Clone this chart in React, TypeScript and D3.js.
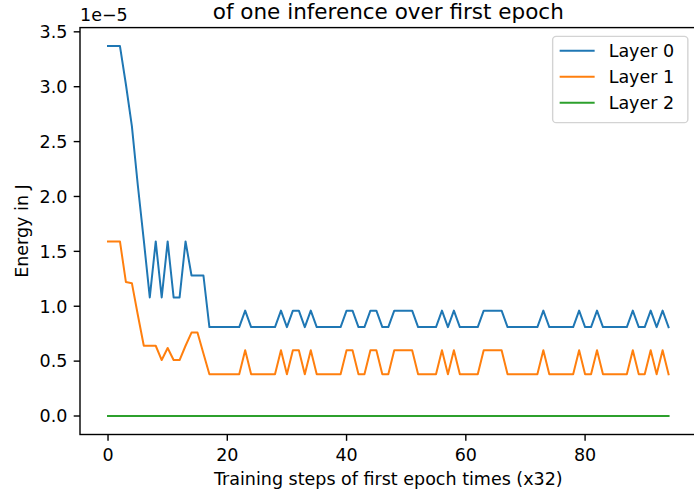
import React from 'react';
import * as d3 from 'd3';

// Energy values in units of 1e-5 J, one per training step (x32)
const layer0: number[] = [
  3.37, 3.37, 3.37, 3.02, 2.64, 2.10, 1.60, 1.08, 1.59, 1.08,
  1.59, 1.08, 1.08, 1.59, 1.28, 1.28, 1.28, 0.81, 0.81, 0.81,
  0.81, 0.81, 0.81, 0.96, 0.81, 0.81, 0.81, 0.81, 0.81, 0.96,
  0.81, 0.96, 0.96, 0.81, 0.96, 0.81, 0.81, 0.81, 0.81, 0.81,
  0.96, 0.96, 0.81, 0.81, 0.96, 0.96, 0.81, 0.81, 0.96, 0.96,
  0.96, 0.96, 0.81, 0.81, 0.81, 0.81, 0.96, 0.81, 0.96, 0.81,
  0.81, 0.81, 0.81, 0.96, 0.96, 0.96, 0.96, 0.81, 0.81, 0.81,
  0.81, 0.81, 0.81, 0.96, 0.81, 0.81, 0.81, 0.81, 0.81, 0.96,
  0.81, 0.81, 0.96, 0.81, 0.81, 0.81, 0.81, 0.81, 0.96, 0.81,
  0.81, 0.96, 0.81, 0.96, 0.81,
];

const layer1: number[] = [
  1.59, 1.59, 1.59, 1.22, 1.21, 0.92, 0.64, 0.64, 0.64, 0.51,
  0.62, 0.51, 0.51, 0.64, 0.76, 0.76, 0.57, 0.38, 0.38, 0.38,
  0.38, 0.38, 0.38, 0.60, 0.38, 0.38, 0.38, 0.38, 0.38, 0.60,
  0.38, 0.60, 0.60, 0.38, 0.60, 0.38, 0.38, 0.38, 0.38, 0.38,
  0.60, 0.60, 0.38, 0.38, 0.60, 0.60, 0.38, 0.38, 0.60, 0.60,
  0.60, 0.60, 0.38, 0.38, 0.38, 0.38, 0.60, 0.38, 0.60, 0.38,
  0.38, 0.38, 0.38, 0.60, 0.60, 0.60, 0.60, 0.38, 0.38, 0.38,
  0.38, 0.38, 0.38, 0.60, 0.38, 0.38, 0.38, 0.38, 0.38, 0.60,
  0.38, 0.38, 0.60, 0.38, 0.38, 0.38, 0.38, 0.38, 0.60, 0.38,
  0.38, 0.60, 0.38, 0.60, 0.38,
];

const layer2: number[] = [
  0, 0, 0, 0, 0, 0, 0, 0, 0, 0,
  0, 0, 0, 0, 0, 0, 0, 0, 0, 0,
  0, 0, 0, 0, 0, 0, 0, 0, 0, 0,
  0, 0, 0, 0, 0, 0, 0, 0, 0, 0,
  0, 0, 0, 0, 0, 0, 0, 0, 0, 0,
  0, 0, 0, 0, 0, 0, 0, 0, 0, 0,
  0, 0, 0, 0, 0, 0, 0, 0, 0, 0,
  0, 0, 0, 0, 0, 0, 0, 0, 0, 0,
  0, 0, 0, 0, 0, 0, 0, 0, 0, 0,
  0, 0, 0, 0, 0,
];

const seriesNames = ['Layer 0', 'Layer 1', 'Layer 2'];
const seriesColors = ['#1f77b4', '#ff7f0e', '#2ca02c'];
const xTicks = [0, 20, 40, 60, 80];
const yTicks = [0, 0.5, 1.0, 1.5, 2.0, 2.5, 3.0, 3.5];
const titleLine = 'of one inference over first epoch';
const xLabel = 'Training steps of first epoch times (x32)';
const yLabel = 'Energy in J';
const offsetLabel = '1e\u22125';

const W = 694;
const H = 490;
const L = 80;
const R = 696.6;
const T = 27.6;
const B = 434.5;
const FONT = 'DejaVu Sans, sans-serif';
const FS = 17.5;

export default function App() {
  const all = [layer0, layer1, layer2];
  const n = layer0.length;
  const xMin = 0, xMax = n - 1;
  const xPad = (xMax - xMin) * 0.05;
  const yMax = d3.max(all.flat()) as number;
  const yMinV = d3.min(all.flat()) as number;
  const yPad = (yMax - yMinV) * 0.05;

  const x = d3.scaleLinear().domain([xMin - xPad, xMax + xPad]).range([L, R]);
  const y = d3.scaleLinear().domain([yMinV - yPad, yMax + yPad]).range([B, T]);

  const line = d3
    .line<number>()
    .x((_, i) => x(i))
    .y((d) => y(d));

  const tickLen = 6.3;
  const tickPad = 6.3;

  const legX = R - 8.75 - 135.2;
  const legY = T + 8.75;
  const legW = 135.2;
  const legH = 86.3;

  return (
    <div style={{ position: 'fixed', left: 0, top: 0, width: W, height: H, background: '#fff' }}>
      <svg width={W} height={H} style={{ display: 'block' }} fontFamily={FONT}>
        <rect x={0} y={0} width={W} height={H} fill="#fff" />
        <defs>
          <clipPath id="plotclip">
            <rect x={L} y={T} width={R - L} height={B - T} />
          </clipPath>
        </defs>
        <g clipPath="url(#plotclip)">
          {all.map((s, k) => (
            <path
              key={k}
              d={line(s) || ''}
              fill="none"
              stroke={seriesColors[k]}
              strokeWidth={2.0}
              strokeLinejoin="round"
              strokeLinecap="square"
            />
          ))}
        </g>
        {/* spines */}
        <rect x={L} y={T} width={R - L} height={B - T} fill="none" stroke="#000" strokeWidth={1.4} />
        {/* x ticks */}
        {xTicks.map((t) => (
          <g key={'x' + t}>
            <line x1={x(t)} x2={x(t)} y1={B} y2={B + tickLen} stroke="#000" strokeWidth={1.4} />
            <text x={x(t)} y={B + tickLen + tickPad + 13.5} textAnchor="middle" fontSize={FS} fill="#000">
              {t}
            </text>
          </g>
        ))}
        {/* y ticks */}
        {yTicks.map((t) => (
          <g key={'y' + t}>
            <line x1={L - tickLen} x2={L} y1={y(t)} y2={y(t)} stroke="#000" strokeWidth={1.4} />
            <text
              x={L - tickLen - tickPad}
              y={y(t) + 6.3}
              textAnchor="end"
              fontSize={FS}
              fill="#000"
            >
              {t.toFixed(1)}
            </text>
          </g>
        ))}
        <text x={L} y={21} fontSize={FS} fill="#000">
          {offsetLabel}
        </text>
        <text x={(L + R) / 2} y={18.5} textAnchor="middle" fontSize={21.5} fill="#000">
          {titleLine}
        </text>
        <text x={(L + R) / 2} y={485} textAnchor="middle" fontSize={FS} fill="#000">
          {xLabel}
        </text>
        <text
          transform={`translate(28,${(T + B) / 2}) rotate(-90)`}
          textAnchor="middle"
          fontSize={FS}
          fill="#000"
        >
          {yLabel}
        </text>
        {/* legend */}
        <rect
          x={legX}
          y={legY}
          width={legW}
          height={legH}
          rx={3.5}
          ry={3.5}
          fill="#fff"
          fillOpacity={0.8}
          stroke="#d3d3d3"
          strokeWidth={1.4}
        />
        {seriesNames.map((name, k) => {
          const cy = legY + 14.3 + k * 26;
          return (
            <g key={name}>
              <line
                x1={legX + 7}
                x2={legX + 42}
                y1={cy}
                y2={cy}
                stroke={seriesColors[k]}
                strokeWidth={2.0}
              />
              <text x={legX + 56} y={cy + 6.3} fontSize={FS} fill="#000">
                {name}
              </text>
            </g>
          );
        })}
      </svg>
    </div>
  );
}
